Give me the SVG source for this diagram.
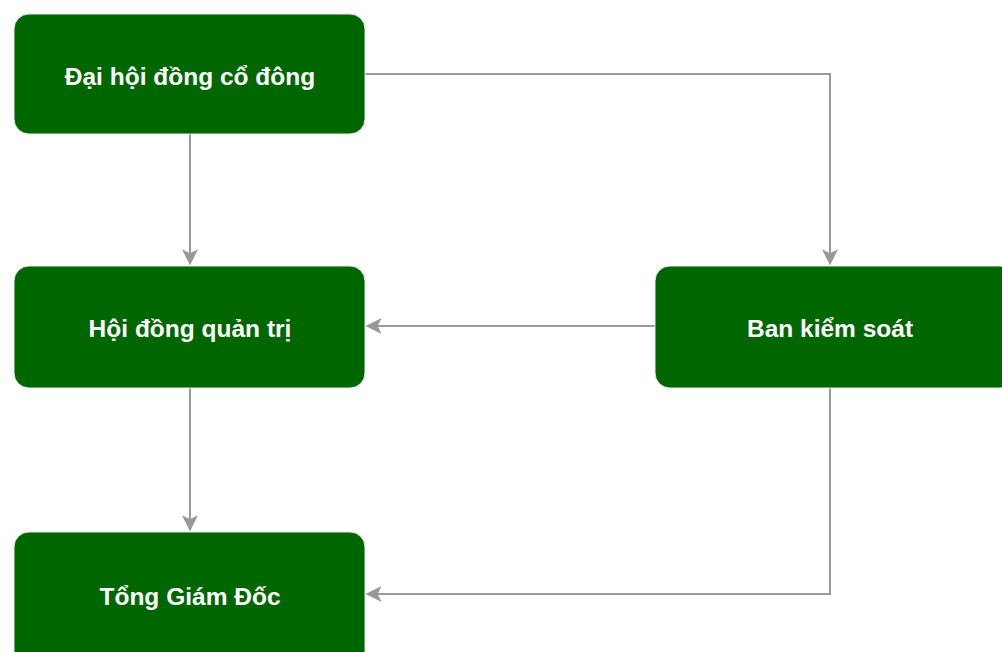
<svg xmlns="http://www.w3.org/2000/svg" width="1002" height="652" viewBox="0 0 1002 652">
  <style>
    .box { fill: #006600; stroke: #e8e8e8; stroke-width: 1; }
    .label { fill: #ffffff; font-family: "Liberation Sans", Arial, sans-serif; font-weight: bold; font-size: 24.5px; text-anchor: middle; dominant-baseline: central; }
    .edge { fill: none; stroke: #999999; stroke-width: 2; marker-end: url(#arrow); }
  </style>
  <defs>
    <marker id="arrow" viewBox="0 0 12 12" refX="11" refY="6" markerWidth="8" markerHeight="8" markerUnits="strokeWidth" orient="auto">
      <path d="M0,0 L12,6 L0,12 L3,6 Z" fill="#999999"/>
    </marker>
  </defs>
  <rect width="1002" height="652" fill="#ffffff"/>

  <g id="connectors">
    <path class="edge" d="M190,134 V264"/>
    <path class="edge" d="M365,74 H830 V264"/>
    <path class="edge" d="M655,326 H367"/>
    <path class="edge" d="M190,388 V530"/>
    <path class="edge" d="M830,388 V594 H367"/>
  </g>

  <g id="dai-hoi-dong-co-dong">
    <rect class="box" x="14" y="14" width="351" height="120" rx="15"/>
    <text class="label" x="190" y="76">Đại hội đồng cổ đông</text>
  </g>
  <g id="hoi-dong-quan-tri">
    <rect class="box" x="14" y="266" width="351" height="122" rx="15"/>
    <text class="label" x="190" y="328">Hội đồng quản trị</text>
  </g>
  <g id="ban-kiem-soat">
    <rect class="box" x="655" y="266" width="360" height="122" rx="15"/>
    <text class="label" x="830" y="328">Ban kiểm soát</text>
  </g>
  <g id="tong-giam-doc">
    <rect class="box" x="14" y="532" width="351" height="135" rx="15"/>
    <text class="label" x="190" y="596">Tổng Giám Đốc</text>
  </g>
</svg>
